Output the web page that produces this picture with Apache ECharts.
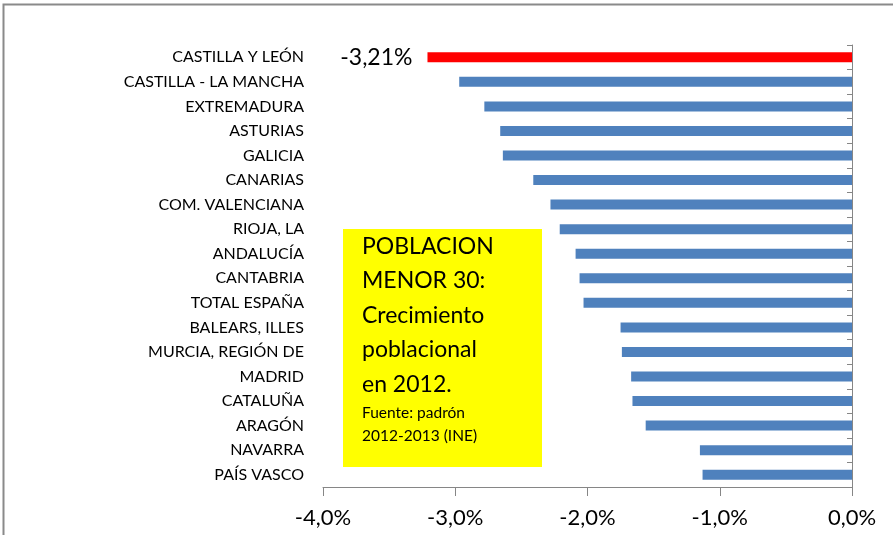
<!DOCTYPE html>
<html>
<head>
<meta charset="utf-8">
<script src="https://cdn.jsdelivr.net/npm/echarts@6/dist/echarts.min.js"></script>
<style>
  html, body { margin: 0; padding: 0; background: #fff; }
  #chart { width: 893px; height: 535px; }
</style>
</head>
<body>
<div id="chart"></div>
<script>
// regiones, de arriba abajo
const regions = [
  "CASTILLA Y LEÓN", "CASTILLA - LA MANCHA", "EXTREMADURA", "ASTURIAS",
  "GALICIA", "CANARIAS", "COM. VALENCIANA", "RIOJA, LA", "ANDALUCÍA",
  "CANTABRIA", "TOTAL ESPAÑA", "BALEARS, ILLES", "MURCIA, REGIÓN DE",
  "MADRID", "CATALUÑA", "ARAGÓN", "NAVARRA", "PAÍS VASCO"
];
// crecimiento poblacional menores de 30 (%)
const growth = [
  -3.21, -2.97, -2.78, -2.66, -2.64, -2.41, -2.28, -2.21, -2.09,
  -2.06, -2.03, -1.75, -1.74, -1.67, -1.66, -1.56, -1.15, -1.13
];
const xTicks = [-4, -3, -2, -1, 0];
const highlighted = "CASTILLA Y LEÓN";

const chart = echarts.init(document.getElementById("chart"));
const fmt = v => v.toFixed(1).replace(".", ",") + "%";
const font = "Lato, 'Open Sans', sans-serif";

const option = {
  animation: false,
  grid: { left: 323, right: 41, top: 45, bottom: 48 },
  xAxis: {
    type: "value",
    min: xTicks[0],
    max: xTicks[xTicks.length - 1],
    interval: 1,
    splitLine: { show: false },
    axisLine: { show: true, lineStyle: { color: "#868686", width: 1 } },
    axisTick: { show: true, length: 9, lineStyle: { color: "#868686" } },
    axisLabel: {
      formatter: fmt, color: "#000", fontSize: 22, fontFamily: font, margin: 20
    }
  },
  yAxis: [
    {
      type: "category",
      data: regions,
      inverse: true,
      position: "left",
      axisLine: { show: false },
      axisTick: { show: false },
      axisLabel: { color: "#000", fontSize: 16, fontFamily: font, margin: 19 }
    },
    {
      type: "category",
      data: regions,
      inverse: true,
      position: "right",
      axisLine: { show: true, lineStyle: { color: "#868686" } },
      axisTick: { show: true, inside: true, length: 5, lineStyle: { color: "#868686" } },
      axisLabel: { show: false }
    }
  ],
  series: [{
    type: "bar",
    barWidth: 10,
    data: growth.map((v, i) => ({
      value: v,
      itemStyle: { color: regions[i] === highlighted ? "#FF0000" : "#4F81BD" },
      label: {
        show: regions[i] === highlighted,
        position: "left",
        distance: 15,
        formatter: p => p.value.toFixed(2).replace(".", ",") + "%",
        color: "#000",
        fontSize: 23,
        fontFamily: font
      }
    }))
  }],
  graphic: [
    {
      type: "rect",
      shape: { x: 3.5, y: 4.5, width: 900, height: 540 },
      style: { fill: null, stroke: "#8a8a8a", lineWidth: 2 },
      z: 0
    },
    {
      type: "rect",
      shape: { x: 343, y: 229, width: 199, height: 238 },
      style: { fill: "#FFFF00" },
      z: 10
    },
    {
      type: "text",
      left: 362,
      top: 235,
      z: 11,
      style: {
        text: "{a|POBLACION}\n{a|MENOR 30:}\n{a|Crecimiento}\n{a|poblacional}\n{a|en 2012.}\n{b|Fuente: padrón}\n{b|2012-2013 (INE)}",
        rich: {
          a: { fontSize: 23, lineHeight: 34.5, fontFamily: font, fill: "#000" },
          b: { fontSize: 15.5, lineHeight: 23, fontFamily: font, fill: "#000" }
        }
      }
    }
  ]
};

chart.setOption(option);
</script>
</body>
</html>
